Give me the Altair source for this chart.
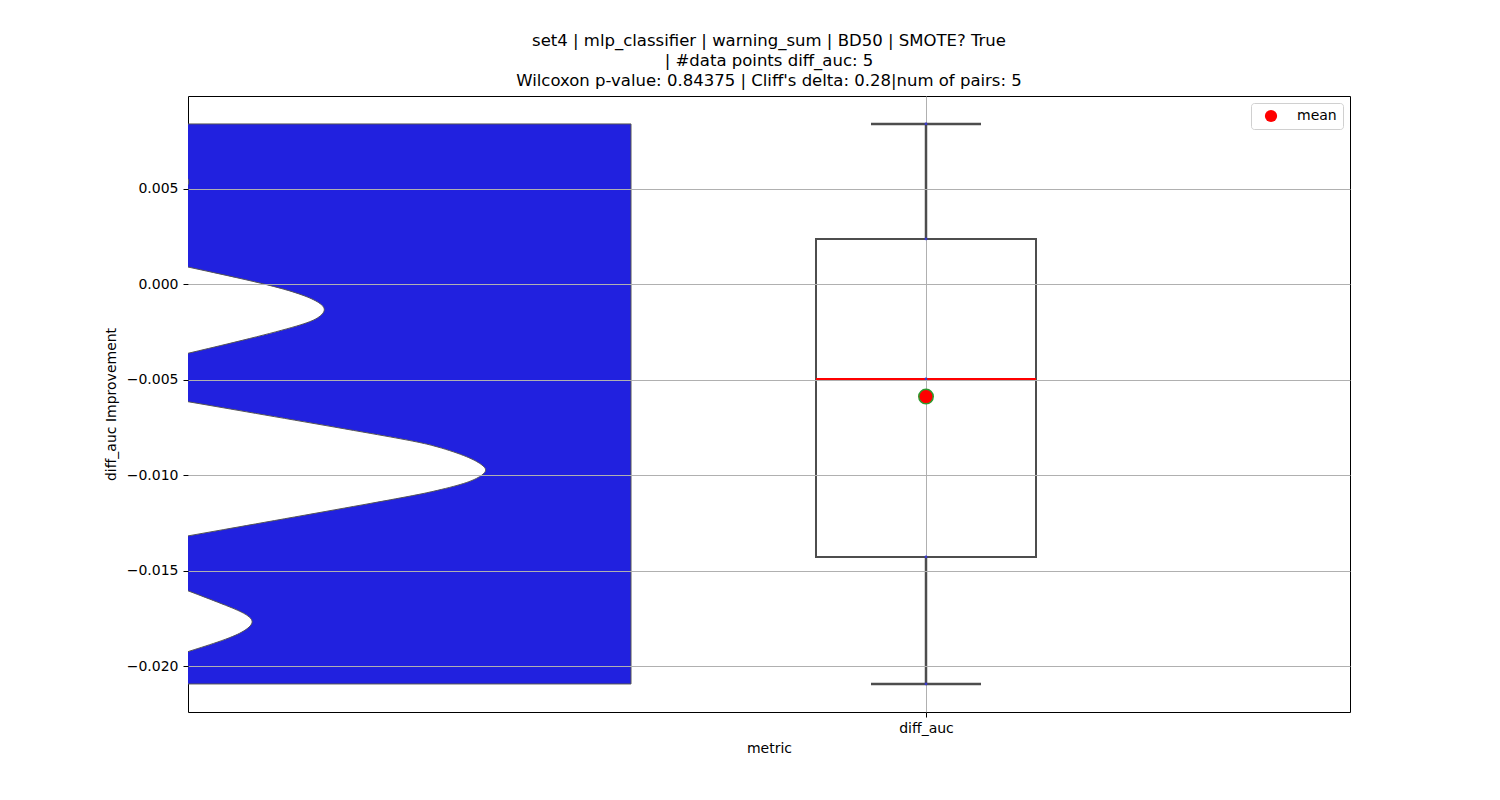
import altair as alt
import numpy as np
import pandas as pd

# ---------------- data ----------------
title_lines = [
    "set4 | mlp_classifier | warning_sum | BD50 | SMOTE? True",
    "| #data points diff_auc: 5",
    "Wilcoxon p-value: 0.84375 | Cliff's delta: 0.28|num of pairs: 5",
]
metric_names = ["diff_auc"]
diff_auc_values = [0.00838, 0.00236, -0.00497, -0.01429, -0.02094]
y_ticks = [-0.020, -0.015, -0.010, -0.005, 0.000, 0.005]

# violin outline (clipped, drawn left of the plot): white gaps in the blue body
gap_id = [0] * 5 + [1] * 9 + [2] * 11 + [3] * 7
gap_y = [0.00565, 0.00550, 0.00534, 0.00518, 0.00508,
         0.00089, -0.00002, -0.00054, -0.00093, -0.00133, -0.00180, -0.00215, -0.00284, -0.00363,
         -0.00616, -0.00808, -0.00843, -0.00901, -0.00939, -0.00974, -0.01009, -0.01043,
         -0.01087, -0.01122, -0.01319,
         -0.01606, -0.01690, -0.01728, -0.01768, -0.01812, -0.01855, -0.01925]
gap_x = [-2.690, -2.683, -2.680, -2.683, -2.690,
         -2.684, -2.392, -2.270, -2.208, -2.178, -2.208, -2.270, -2.452, -2.684,
         -2.684, -1.913, -1.792, -1.670, -1.620, -1.592, -1.620, -1.670,
         -1.792, -1.913, -2.684,
         -2.684, -2.531, -2.471, -2.440, -2.471, -2.531, -2.684]

# ---------------- scales ----------------
X_MIN, X_MAX = -2.6836, 1.5418
Y_MIN, Y_MAX = -0.022408, 0.009843
VIOLIN_RIGHT = -1.0727
EXT = 0.06  # extend clipped shapes beyond the left edge

vals = np.array(diff_auc_values)
q1, med, q3 = np.percentile(vals, [25, 50, 75])
vmin, vmax = vals.min(), vals.max()
mean = vals.mean()

font = "DejaVu Sans"
BOX_COL = "#4d4d4d"

xs = alt.Scale(domain=[X_MIN, X_MAX], nice=False, zero=False)
ys = alt.Scale(domain=[Y_MIN, Y_MAX], nice=False, zero=False)

x_axis = alt.Axis(values=[0], labelExpr="'diff_auc'", title="metric", grid=True,
                  gridColor="#b0b0b0", gridWidth=1, domain=False, tickColor="black",
                  tickSize=5, labelPadding=4, labelFontSize=14, titleFontSize=14,
                  labelFont=font, titleFont=font, titleFontWeight="normal",
                  labelColor="black", titleColor="black", titlePadding=6, zindex=0)
y_axis = alt.Axis(values=y_ticks, format=".3f", title="diff_auc Improvement", grid=True,
                  gridColor="#b0b0b0", gridWidth=1, domain=False, tickColor="black",
                  tickSize=5, labelPadding=5, labelFontSize=14, titleFontSize=14,
                  labelFont=font, titleFont=font, titleFontWeight="normal",
                  labelColor="black", titleColor="black", titlePadding=8, zindex=1)

# violin body
body_df = pd.DataFrame({"x": [X_MIN - EXT], "x2": [VIOLIN_RIGHT], "y": [vmax], "y2": [vmin]})
body = alt.Chart(body_df).mark_rect(fill="#2121DF", stroke="#555555", strokeWidth=1, clip=True).encode(
    x=alt.X("x:Q", scale=xs, axis=x_axis), x2="x2:Q",
    y=alt.Y("y:Q", scale=ys, axis=y_axis), y2="y2:Q")

gap_df = pd.DataFrame({"g": gap_id, "y": gap_y, "x": gap_x})
gap_df["x0"] = X_MIN - EXT
gaps = alt.Chart(gap_df).mark_area(orient="horizontal", interpolate="basis", fill="white",
                                   stroke="#555555", strokeWidth=1, clip=True).encode(
    y=alt.Y("y:Q", scale=ys), x=alt.X("x:Q", scale=xs), x2="x0:Q", detail="g:N")

# box plot
stats = pd.DataFrame({"x": [0.0], "q1": [q1], "q3": [q3], "med": [med], "lo": [vmin], "hi": [vmax],
                      "bl": [-0.4], "br": [0.4], "cl": [-0.2], "cr": [0.2]})
base = alt.Chart(stats)
whisk_lo = base.mark_rule(color=BOX_COL, strokeWidth=2.5).encode(
    x=alt.X("x:Q", scale=xs), y=alt.Y("lo:Q", scale=ys), y2="q1:Q")
whisk_hi = base.mark_rule(color=BOX_COL, strokeWidth=2.5).encode(
    x=alt.X("x:Q", scale=xs), y=alt.Y("q3:Q", scale=ys), y2="hi:Q")
cap_lo = base.mark_rule(color=BOX_COL, strokeWidth=2.5).encode(
    x=alt.X("cl:Q", scale=xs), x2="cr:Q", y=alt.Y("lo:Q", scale=ys))
cap_hi = base.mark_rule(color=BOX_COL, strokeWidth=2.5).encode(
    x=alt.X("cl:Q", scale=xs), x2="cr:Q", y=alt.Y("hi:Q", scale=ys))
box = base.mark_rect(fill="transparent", stroke=BOX_COL, strokeWidth=2).encode(
    x=alt.X("bl:Q", scale=xs), x2="br:Q", y=alt.Y("q1:Q", scale=ys), y2="q3:Q")
median = base.mark_rule(color="red", strokeWidth=2).encode(
    x=alt.X("bl:Q", scale=xs), x2="br:Q", y=alt.Y("med:Q", scale=ys))

pts_df = pd.DataFrame({"metric": metric_names * len(diff_auc_values), "v": diff_auc_values, "x": 0.0})
pts = alt.Chart(pts_df).mark_point(filled=True, color="#3a3acc", size=8, opacity=1).encode(
    x=alt.X("x:Q", scale=xs), y=alt.Y("v:Q", scale=ys))

mean_df = pd.DataFrame({"x": [0.0], "m": [mean], "label": ["mean"]})
mean_pt = alt.Chart(mean_df).mark_point(filled=True, size=210, stroke="#2e9a2e", strokeWidth=1.5,
                                        opacity=1, shape="circle").encode(
    x=alt.X("x:Q", scale=xs), y=alt.Y("m:Q", scale=ys),
    fill=alt.Fill("label:N", scale=alt.Scale(domain=["mean"], range=["red"]),
                  legend=alt.Legend(title=None, orient="top-right", offset=7, padding=6,
                                    strokeColor="#d0d0d0", cornerRadius=3, fillColor="white",
                                    labelFontSize=14, labelFont=font, labelColor="black",
                                    symbolSize=150, symbolType="circle", symbolStrokeWidth=0,
                                    symbolOffset=7, labelOffset=19)))

chart = alt.layer(body, gaps, whisk_lo, whisk_hi, cap_lo, cap_hi, box, median, pts, mean_pt).properties(
    width=1162, height=616,
    title=alt.TitleParams(text=title_lines, fontSize=16.5, font=font, fontWeight="normal",
                          anchor="middle", color="black", lineHeight=20, offset=7),
    autosize=alt.AutoSizeParams(type="none"),
    padding={"left": 188, "top": 96, "right": 150, "bottom": 88},
).configure(background="white", view=alt.ViewConfig(stroke="black", strokeWidth=1))

chart.save("out.html", embed_options={"renderer": "svg", "actions": False})
